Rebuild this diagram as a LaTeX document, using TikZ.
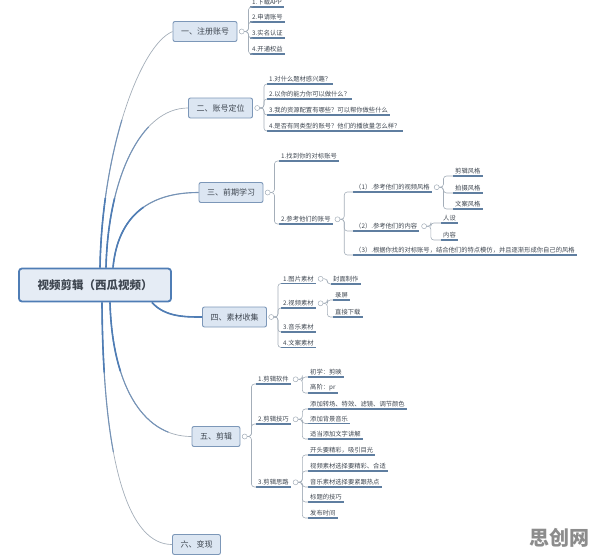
\documentclass[tikz,border=0pt]{standalone}
\usepackage{fontspec}
\setmainfont{Noto Sans CJK SC}
\usetikzlibrary{positioning}
\definecolor{boxfill}{HTML}{DCE6F2}
\definecolor{boxline}{HTML}{7C97B8}
\definecolor{rootline}{HTML}{4F7DB5}
\definecolor{ulcol}{HTML}{5F7EA0}
\definecolor{linkcol}{HTML}{A4AEB9}
\definecolor{txtcol}{HTML}{3E4650}
\tikzset{
  rootbox/.style={draw=rootline, line width=1.8pt, fill=boxfill!75!white, rounded corners=3pt,
    minimum width=152pt, minimum height=33pt, text=txtcol, font=\fontsize{11.5}{13}\selectfont\bfseries},
  topic/.style={draw=boxline, line width=0.9pt, fill=boxfill, rounded corners=2pt,
    minimum height=20pt, inner xsep=8pt, text=txtcol, font=\fontsize{8}{9}\selectfont},
  leaf/.style={anchor=south west, inner xsep=2pt, inner ysep=1.6pt, text=txtcol,
    font=\fontsize{6.3}{7.5}\selectfont,
    append after command={(\tikzlastnode.south west) edge[uline] (\tikzlastnode.south east)}},
  uline/.style={draw=ulcol, line width=1.1pt},
  knob/.style={circle, draw=linkcol, line width=0.5pt, fill=white, inner sep=0pt, minimum size=5pt},
  twig/.style={draw=linkcol, line width=0.6pt, rounded corners=3pt},
  trunk/.style={draw=linkcol, line width=0.7pt,
    postaction={draw=rootline!55!linkcol, line width=1.1pt, dash pattern=on 150pt off 2000pt},
    postaction={draw=rootline, line width=1.6pt, dash pattern=on 70pt off 2000pt}},
}
\begin{document}
\begin{tikzpicture}[x=1pt, y=-1pt]
\useasboundingbox (0,0) rectangle (596,557);

% centre and main topics
\node[rootbox] (root) at (95,285) {视频剪辑（西瓜视频）};
\node[topic] (n1) at (205,31.5) {一、注册账号};
\node[topic] (n2) at (220.5,108) {二、账号定位};
\node[topic] (n3) at (231,192.5) {三、前期学习};
\node[topic] (n4) at (234.5,317) {四、素材收集};
\node[topic] (n5) at (216,436.5) {五、剪辑};
\node[topic] (n6) at (196.5,544.5) {六、变现};

\draw[trunk] ([xshift=5pt]root.north) .. controls (102,150) and (140,45) .. (n1.west);
\draw[trunk] ([xshift=11pt]root.north) .. controls (108,180) and (140,108) .. (n2.west);
\draw[trunk] ([xshift=18pt]root.north) .. controls (118,215) and (150,192.5) .. (n3.west);
\draw[trunk] ([xshift=-20pt]root.south east) .. controls (165,317) and (185,317) .. (n4.west);
\draw[trunk] ([xshift=15pt]root.south) .. controls (112,380) and (140,436.5) .. (n5.west);
\draw[trunk] ([xshift=7pt]root.south) .. controls (103,470) and (130,544.5) .. (n6.west);

\foreach \t in {1,...,5} \node[knob, right=1.5pt of n\t] (m\t) {};

% 一
\node[leaf] (a1) at (250,7) {1.下载APP};
\node[leaf] (a2) at (250,22) {2.申请账号};
\node[leaf] (a3) at (250,38) {3.实名认证};
\node[leaf] (a4) at (250,54) {4.开通权益};
\foreach \c in {a1,a2,a3,a4} \draw[twig] (m1.east) -- ++(4,0) |- (\c.south west);

% 二
\node[leaf] (b1) at (267,84) {1.对什么题材感兴趣？};
\node[leaf] (b2) at (267,99) {2.以你的能力你可以做什么？};
\node[leaf] (b3) at (267,115) {3.我的资源配置有哪些？可以帮你做些什么};
\node[leaf] (b4) at (267,131) {4.是否有同类型的账号？他们的播放量怎么样？};
\foreach \c in {b1,b2,b3,b4} \draw[twig] (m2.east) -- ++(4,0) |- (\c.south west);

% 三
\node[leaf] (c1) at (279,161) {1.找到你的对标账号};
\node[leaf] (c2) at (279,224) {2.参考他们的账号};
\foreach \c in {c1,c2} \draw[twig] (m3.east) -- ++(4,0) |- (\c.south west);
\node[knob, right=2pt of c2] (mc2) {};
\node[leaf] (c21) at (353,192) {（1）.参考他们的视频风格};
\node[leaf] (c22) at (353,231) {（2）.参考他们的内容};
\node[leaf] (c23) at (353,255) {（3）.根据你找的对标账号，结合他们的特点模仿，并且逐渐形成你自己的风格};
\foreach \c in {c21,c22,c23} \draw[twig] (mc2.east) -- ++(4,0) |- (\c.south west);
\node[knob, right=2pt of c21] (mc21) {};
\node[leaf] (c211) at (453,176) {剪辑风格};
\node[leaf] (c212) at (453,193) {拍摄风格};
\node[leaf] (c213) at (453,209) {文案风格};
\foreach \c in {c211,c212,c213} \draw[twig] (mc21.east) -- ++(4,0) |- (\c.south west);
\node[knob, right=2pt of c22] (mc22) {};
\node[leaf] (c221) at (441,223) {人设};
\node[leaf] (c222) at (441,240) {内容};
\foreach \c in {c221,c222} \draw[twig] (mc22.east) -- ++(4,0) |- (\c.south west);

% 四
\node[leaf] (d1) at (281,283.5) {1.图片素材};
\node[leaf] (d2) at (281,308) {2.视频素材};
\node[leaf] (d3) at (281,332) {3.音乐素材};
\node[leaf] (d4) at (281,347.5) {4.文案素材};
\foreach \c in {d1,d2,d3,d4} \draw[twig] (m4.east) -- ++(4,0) |- (\c.south west);
\node[knob, right=2pt of d1] (md1) {};
\node[leaf] (d11) at (331,284) {封面制作};
\draw[twig] (md1.east) -- ++(4,0) |- (d11.south west);
\node[knob, right=2pt of d2] (md2) {};
\node[leaf] (d21) at (333,300) {录屏};
\node[leaf] (d22) at (333,317) {直接下载};
\foreach \c in {d21,d22} \draw[twig] (md2.east) -- ++(4,0) |- (\c.south west);

% 五
\node[leaf] (e1) at (256,384) {1.剪辑软件};
\node[leaf] (e2) at (256,424) {2.剪辑技巧};
\node[leaf] (e3) at (256,487) {3.剪辑思路};
\foreach \c in {e1,e2,e3} \draw[twig] (m5.east) -- ++(4,0) |- (\c.south west);
\node[knob, right=2pt of e1] (me1) {};
\node[leaf] (e11) at (308,377) {初学：剪映};
\node[leaf] (e12) at (308,393) {高阶：pr};
\foreach \c in {e11,e12} \draw[twig] (me1.east) -- ++(4,0) |- (\c.south west);
\node[knob, right=2pt of e2] (me2) {};
\node[leaf] (e21) at (308,409) {添加转场、特效、滤镜、调节颜色};
\node[leaf] (e22) at (308,423.5) {添加背景音乐};
\node[leaf] (e23) at (308,439) {适当添加文字讲解};
\foreach \c in {e21,e22,e23} \draw[twig] (me2.east) -- ++(4,0) |- (\c.south west);
\node[knob, right=2pt of e3] (me3) {};
\node[leaf] (e31) at (308,455) {开头要精彩，吸引目光};
\node[leaf] (e32) at (308,471) {视频素材选择要精彩、合适};
\node[leaf] (e33) at (308,487) {音乐素材选择要紧跟热点};
\node[leaf] (e34) at (308,502) {标题的技巧};
\node[leaf] (e35) at (308,518) {发布时间};
\foreach \c in {e31,e32,e33,e34,e35} \draw[twig] (me3.east) -- ++(4,0) |- (\c.south west);

\node[text=black!45, font=\fontsize{20}{22}\selectfont\bfseries] (mark) at (559,538) {思创网};
\end{tikzpicture}
\end{document}
